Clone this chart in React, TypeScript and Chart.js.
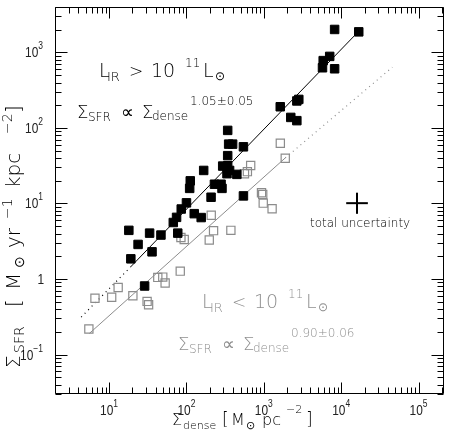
import React, { useEffect, useRef } from "react";
import { Chart, registerables } from "chart.js";

Chart.register(...registerables);

// ---- Data ----
// Filled squares: L_IR > 10^11 L_sun
const filledX = [16850, 8220, 7100, 5850, 5730, 8220, 1630, 2670, 2830, 2230, 2670, 341, 351, 395, 545, 341, 294, 341, 361, 334, 448, 167, 112, 110, 230, 280, 288, 208, 545, 100, 85.6, 74.5, 67.6, 126, 155, 77.2, 18.0, 33.4, 46.8, 23.7, 35.9, 19.1, 28.8];
const filledY = [1875, 2017, 887, 780, 627, 608, 191, 228, 239, 138, 125, 92.9, 61.1, 61.1, 56.3, 43.0, 31.3, 31.6, 27.4, 24.8, 24.3, 27.4, 19.95, 15.85, 18.0, 18.0, 15.85, 12.1, 12.6, 10.2, 8.45, 6.55, 5.6, 7.33, 6.51, 4.05, 4.41, 4.05, 3.82, 2.87, 2.29, 1.85, 0.808];
// Open squares: L_IR < 10^11 L_sun
const openX = [5.48, 6.57, 10.8, 13.1, 20.3, 31.0, 32.4, 42.6, 49.4, 53.0, 83.1, 84.8, 93.5, 197, 209, 224, 375, 562, 613, 676, 933, 967, 982, 1279, 1633, 1891];
const openY = [0.218, 0.557, 0.574, 0.773, 0.599, 0.505, 0.457, 1.05, 1.06, 0.884, 1.27, 3.54, 3.33, 3.29, 6.99, 4.37, 4.41, 24.8, 26.4, 31.8, 13.9, 13.2, 10.1, 8.52, 62.9, 39.8];
// Fit lines (end points)
const fitHighX = [18.9, 15100];
const fitHighY = [1.44, 1700];
const fitHighExtX = [4.36, 18.9];
const fitHighExtY = [0.313, 1.44];
const fitLowX = [5.56, 1891];
const fitLowY = [0.19, 40.1];
const fitLowExtX = [1891, 45800];
const fitLowExtY = [40.1, 638];
// "total uncertainty" cross
const errBarHX = [11600, 22100];
const errBarHY = [10.1, 10.1];
const errBarVX = [16000, 16000];
const errBarVY = [7.3, 13.9];
// Axes
const xRange = [2, 2.13e5];
const yRange = [0.03, 4000];
const xTickExps = [1, 2, 3, 4, 5];
const yTickExps = [-1, 0, 1, 2, 3];
// Annotation texts
const hiExponent = "1.05±0.05";
const loExponent = "0.90±0.06";
const uncertaintyText = "total uncertainty";

const FONT = '"DejaVu Sans", "Liberation Sans", sans-serif';
const TICK_FONT = '"Liberation Sans", "DejaVu Sans", sans-serif';
const W = "200";
const GRAY = "#8c8c8c";
const TXTGRAY = "#8f8f8f";
const DARK = "#000";

function pts(xs: number[], ys: number[]) {
  return xs.map((x, i) => ({ x, y: ys[i] }));
}

type Frag = { t: string; dx: number; dy: number; size: number };

const row1 = (sym: string): Frag[] => [
  { t: "L", dx: -1, dy: 0, size: 19 },
  { t: "IR", dx: 7, dy: 4, size: 13 },
  { t: sym, dx: 29, dy: 0, size: 17 },
  { t: "10", dx: 51, dy: 0, size: 19 },
  { t: "11", dx: 85, dy: -10, size: 12 },
  { t: "L", dx: 103, dy: 0, size: 19 },
  { t: "⊙", dx: 115, dy: 3, size: 12 },
];
const row2 = (exp: string): Frag[] => [
  { t: "Σ", dx: 0, dy: 0, size: 18 },
  { t: "SFR", dx: 11, dy: 3, size: 12 },
  { t: "∝", dx: 44, dy: 0, size: 18 },
  { t: "Σ", dx: 65, dy: 0, size: 18 },
  { t: "dense", dx: 75, dy: 2, size: 12 },
  { t: exp, dx: 113, dy: -13, size: 12 },
];

function drawFrags(ctx: CanvasRenderingContext2D, frags: Frag[], x0: number, y0: number, color: string) {
  ctx.fillStyle = color;
  for (const f of frags) {
    ctx.font = `${W} ${f.size}px ${FONT}`;
    ctx.fillText(f.t, x0 + f.dx, y0 + f.dy);
  }
}

function drawScaled(ctx: CanvasRenderingContext2D, text: string, x: number, y: number, font: string, sx: number) {
  ctx.save();
  ctx.font = font;
  ctx.translate(x, y);
  ctx.scale(sx, 1);
  ctx.fillText(text, 0, 0);
  ctx.restore();
}

function powLabel(ctx: CanvasRenderingContext2D, base: string, exp: string, x: number, y: number, align: "center" | "right") {
  const SX = 0.85;
  const bf = `14px ${TICK_FONT}`;
  const ef = `10px ${TICK_FONT}`;
  ctx.font = bf;
  const wb = ctx.measureText(base).width * SX;
  ctx.font = ef;
  const we = exp ? ctx.measureText(exp).width * SX : 0;
  const w = wb + we;
  const x0 = align === "center" ? x - w / 2 : x - w;
  drawScaled(ctx, base, x0, y, bf, SX);
  if (exp) drawScaled(ctx, exp, x0 + wb, y - 8, ef, SX);
}

function drawRot(ctx: CanvasRenderingContext2D, t: string, sy: number, bx: number, size: number) {
  ctx.save();
  ctx.translate(bx, sy);
  ctx.rotate(-Math.PI / 2);
  ctx.font = `${W} ${size}px ${FONT}`;
  ctx.fillText(t, 0, 0);
  ctx.restore();
}

const idlPlugin = {
  id: "idlFrame",
  afterDraw(chart: any) {
    const ctx = chart.ctx as CanvasRenderingContext2D;
    const { left, right, top, bottom } = chart.chartArea;
    const xs = chart.scales.x;
    const ys = chart.scales.y;
    ctx.save();
    ctx.strokeStyle = "#000";
    ctx.lineWidth = 1;
    ctx.beginPath();
    const L = Math.round(left) + 0.5;
    const R = Math.round(right) - 0.5;
    const T = Math.round(top) + 0.5;
    const B = Math.round(bottom) - 0.5;
    ctx.rect(L, T, R - L, B - T);
    for (let k = -3; k <= 6; k++) {
      for (let m = 1; m <= 9; m++) {
        const v = m * Math.pow(10, k);
        const major = m === 1;
        if (v >= xs.min && v <= xs.max) {
          const p = Math.round(xs.getPixelForValue(v)) + 0.5;
          const len = major ? 11 : 6;
          ctx.moveTo(p, B);
          ctx.lineTo(p, B - len);
          ctx.moveTo(p, T);
          ctx.lineTo(p, T + len);
        }
        if (v >= ys.min && v <= ys.max) {
          const p = Math.round(ys.getPixelForValue(v)) + 0.5;
          const len = major ? 12 : 6;
          ctx.moveTo(L, p);
          ctx.lineTo(L + len, p);
          ctx.moveTo(R, p);
          ctx.lineTo(R - len, p);
        }
      }
    }
    ctx.stroke();

    // tick labels
    ctx.fillStyle = "#222";
    ctx.textAlign = "left";
    ctx.textBaseline = "alphabetic";
    for (const k of xTickExps) {
      const p = xs.getPixelForValue(Math.pow(10, k));
      powLabel(ctx, "10", String(k), p, bottom + 21, "center");
    }
    for (const k of yTickExps) {
      const p = ys.getPixelForValue(Math.pow(10, k));
      if (k === 0) powLabel(ctx, "1", "", left - 11, p + 5, "right");
      else powLabel(ctx, "10", k < 0 ? "−" + String(-k) : String(k), left - 12, p + 5, "right");
    }

    // x axis title
    ctx.fillStyle = DARK;
    const xt: [string, number, number, number][] = [
      ["Σ", 172, 425, 16],
      ["dense", 183, 429, 11],
      ["[", 222, 425, 17],
      ["M", 231, 425, 16],
      ["⊙", 246, 429, 11],
      ["pc", 262, 425, 16],
      ["−2", 286, 413, 11],
      ["]", 306, 425, 17],
    ];
    for (const [t, x, y, s] of xt) {
      ctx.font = `${W} ${s}px ${FONT}`;
      ctx.fillText(t, x, y);
    }
    // y axis title (rotated)
    const yt: [string, number, number, number][] = [
      ["Σ", 368, 20, 20],
      ["SFR", 353, 24, 14],
      ["[", 307, 20, 20],
      ["M", 290, 20, 20],
      ["⊙", 268, 24, 14],
      ["yr", 248, 20, 20],
      ["−1", 219, 12, 14],
      ["kpc", 188, 20, 20],
      ["−2", 134, 12, 14],
      ["]", 113, 20, 20],
    ];
    for (const [t, sy, bx, s] of yt) drawRot(ctx, t, sy, bx, s);

    // annotations
    drawFrags(ctx, row1(">"), 100, 77, DARK);
    drawFrags(ctx, row2(hiExponent), 77, 118, DARK);
    drawFrags(ctx, row1("<"), 203, 308, TXTGRAY);
    drawFrags(ctx, row2(loExponent), 178, 350, TXTGRAY);
    ctx.fillStyle = DARK;
    ctx.font = `${W} 12px ${FONT}`;
    ctx.fillText(uncertaintyText, 310, 227);
    ctx.restore();
  },
};

export default function App() {
  const ref = useRef<HTMLCanvasElement>(null);
  useEffect(() => {
    const canvas = ref.current!;
    const chart = new Chart(canvas, {
      type: "scatter",
      data: {
        datasets: [
          {
            label: "LIR > 1e11",
            data: pts(filledX, filledY),
            pointStyle: "rect",
            pointRadius: 6,
            backgroundColor: "#000",
            borderColor: "#000",
            borderWidth: 1,
            showLine: false,
          },
          {
            label: "LIR < 1e11",
            data: pts(openX, openY),
            pointStyle: "rect",
            pointRadius: 5.8,
            backgroundColor: "rgba(0,0,0,0)",
            borderColor: GRAY,
            borderWidth: 1.2,
            showLine: false,
          },
          {
            label: "fit high",
            data: pts(fitHighX, fitHighY),
            showLine: true,
            borderColor: "#000",
            borderWidth: 1,
            pointRadius: 0,
          },
          {
            label: "fit high ext",
            data: pts(fitHighExtX, fitHighExtY),
            showLine: true,
            borderColor: "#000",
            borderWidth: 1.2,
            borderDash: [1, 4],
            pointRadius: 0,
          },
          {
            label: "fit low",
            data: pts(fitLowX, fitLowY),
            showLine: true,
            borderColor: GRAY,
            borderWidth: 1,
            pointRadius: 0,
          },
          {
            label: "fit low ext",
            data: pts(fitLowExtX, fitLowExtY),
            showLine: true,
            borderColor: GRAY,
            borderWidth: 1.2,
            borderDash: [1, 4],
            pointRadius: 0,
          },
          {
            label: "err h",
            data: pts(errBarHX, errBarHY),
            showLine: true,
            borderColor: "#000",
            borderWidth: 2,
            pointRadius: 0,
          },
          {
            label: "err v",
            data: pts(errBarVX, errBarVY),
            showLine: true,
            borderColor: "#000",
            borderWidth: 2,
            pointRadius: 0,
          },
        ],
      },
      options: {
        responsive: false,
        animation: false,
        devicePixelRatio: 1,
        layout: { padding: { left: 55, right: 2, top: 1, bottom: 42 } },
        scales: {
          x: { type: "logarithmic", min: xRange[0], max: xRange[1], display: false },
          y: { type: "logarithmic", min: yRange[0], max: yRange[1], display: false },
        },
        plugins: {
          legend: { display: false },
          tooltip: { enabled: false },
        },
      },
      plugins: [idlPlugin],
    } as any);
    return () => chart.destroy();
  }, []);
  return (
    <div style={{ position: "fixed", left: 0, top: 0, width: 451, height: 436, background: "#fff" }}>
      <canvas ref={ref} width={451} height={436} style={{ display: "block" }} />
    </div>
  );
}
